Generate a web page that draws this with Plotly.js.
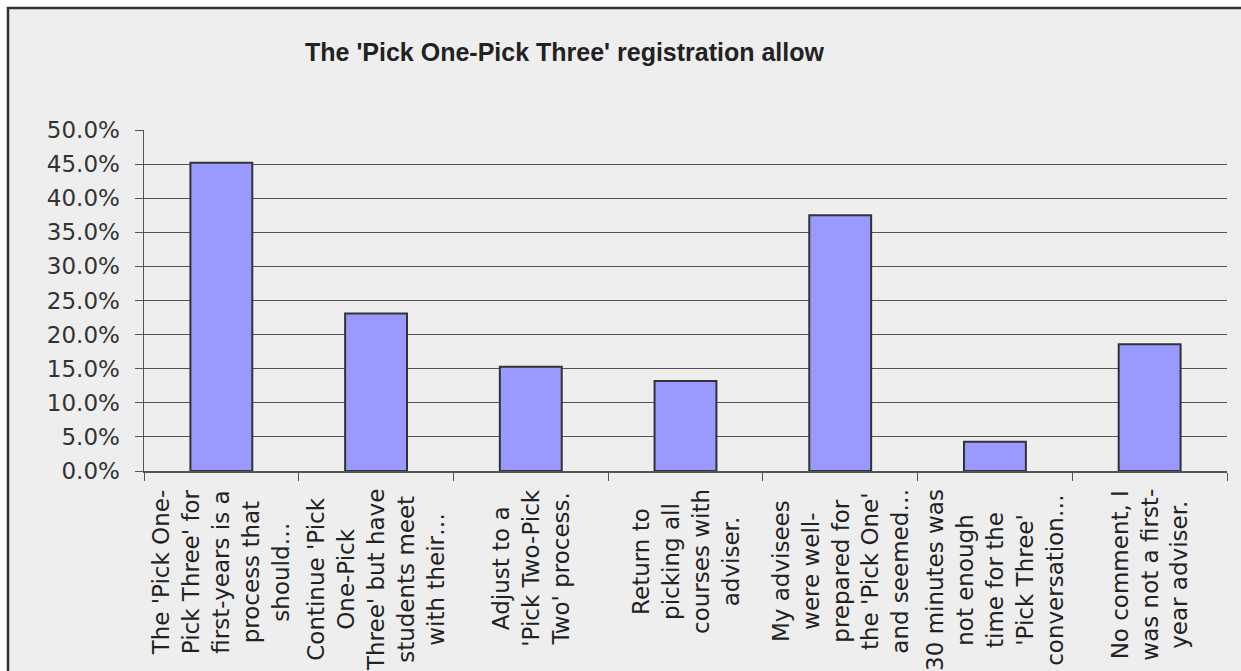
<!DOCTYPE html>
<html>
<head>
<meta charset="utf-8">
<script src="https://cdn.plot.ly/plotly-3.0.1.min.js"></script>
<style>
  html, body { margin: 0; padding: 0; background: #ffffff; }
  #chart { width: 1241px; height: 671px; }
</style>
</head>
<body>
<div id="chart"></div>
<script>
const chartTitle = "The 'Pick One-Pick Three' registration allow";
const categories = [
  "The 'Pick One-<br>Pick Three' for<br>first-years is a<br>process that<br>should…",
  "Continue 'Pick<br>One-Pick<br>Three' but have<br>students meet<br>with their…",
  "Adjust to a<br>'Pick Two-Pick<br>Two' process.",
  "Return to<br>picking all<br>courses with<br>adviser.",
  "My advisees<br>were well-<br>prepared for<br>the 'Pick One'<br>and seemed…",
  "30 minutes was<br>not enough<br>time for the<br>'Pick Three'<br>conversation…",
  "No comment, I<br>was not a first-<br>year adviser."
];
const values = [0.452, 0.231, 0.153, 0.132, 0.375, 0.043, 0.186];
const yTickValues = [0, 0.05, 0.10, 0.15, 0.20, 0.25, 0.30, 0.35, 0.40, 0.45, 0.50];

const W = 1241, H = 671;
const mL = 144, mR = 14, mT = 130, mB = 200;
const pw = W - mL - mR, ph = H - mT - mB;
const px2x = p => (p - mL) / pw;
const py2y = p => (H - mB - p) / ph;

const titleFont = "Liberation Sans, Arial, sans-serif";
const labelFont = "DejaVu Sans, sans-serif";

const trace = {
  type: 'bar',
  x: categories,
  y: values,
  width: 0.4,
  marker: { color: '#9999ff', line: { color: '#333333', width: 2 } },
  hoverinfo: 'skip'
};

const annotations = [{
  xref: 'paper', yref: 'paper',
  x: px2x(565), y: py2y(52),
  xanchor: 'center', yanchor: 'middle',
  text: '<b>' + chartTitle + '</b>',
  showarrow: false,
  font: { family: titleFont, size: 25, color: '#222222' }
}];
categories.forEach(c => {
  annotations.push({
    xref: 'x', yref: 'paper',
    x: c, y: py2y(487),
    xanchor: 'center', yanchor: 'top',
    textangle: -90,
    align: 'center',
    text: c,
    showarrow: false,
    font: { family: labelFont, size: 23, color: '#222222' }
  });
});

const layout = {
  width: W, height: H,
  margin: { l: mL, r: mR, t: mT, b: mB, pad: 0 },
  paper_bgcolor: 'rgba(0,0,0,0)',
  plot_bgcolor: 'rgba(0,0,0,0)',
  showlegend: false,
  bargap: 0.6,
  shapes: [{
    type: 'rect', xref: 'paper', yref: 'paper', layer: 'below',
    x0: px2x(8), x1: px2x(1260), y0: py2y(700), y1: py2y(8),
    fillcolor: '#eeeeee', line: { color: '#333333', width: 2.5 }
  }],
  xaxis: {
    type: 'category',
    range: [-0.5, categories.length - 0.5],
    showticklabels: false,
    ticks: 'outside', tickson: 'boundaries', ticklen: 8, tickcolor: '#555555', tickwidth: 1,
    showline: true, linecolor: '#555555', linewidth: 1.5,
    showgrid: false, zeroline: false, fixedrange: true
  },
  yaxis: {
    range: [0, 0.5],
    tickvals: yTickValues,
    tickformat: '.1%',
    ticks: 'outside', ticklen: 8, tickcolor: '#555555', tickwidth: 1,
    ticklabelstandoff: 10,
    tickfont: { family: labelFont, size: 23, color: '#333333' },
    showline: true, linecolor: '#555555', linewidth: 1.5,
    showgrid: true, gridcolor: '#555555', gridwidth: 1,
    zeroline: false, fixedrange: true
  },
  annotations: annotations
};

Plotly.newPlot('chart', [trace], layout, { displayModeBar: false, staticPlot: true });
</script>
</body>
</html>
